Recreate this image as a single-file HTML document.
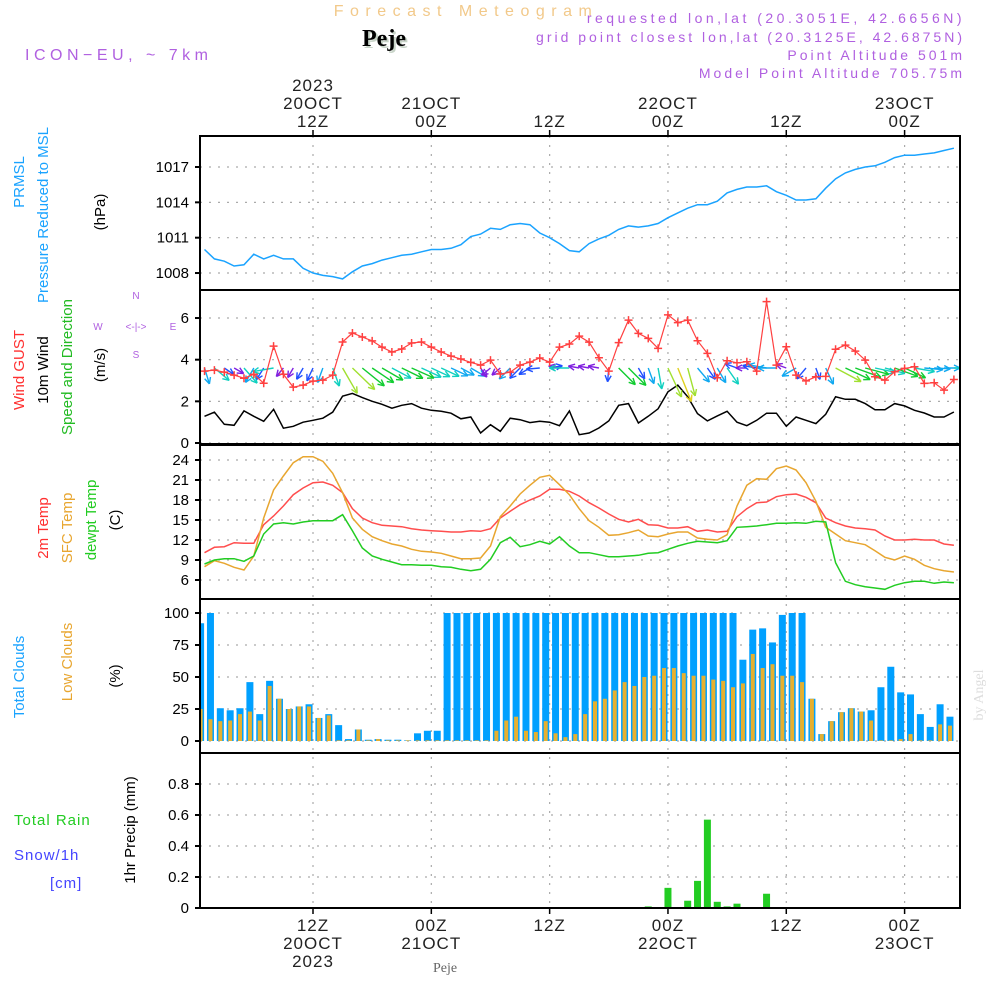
<!DOCTYPE html>
<html><head><meta charset="utf-8"><title>Forecast Meteogram - Peje</title>
<style>
html,body{margin:0;padding:0;background:#fff;}
svg{display:block;}
text{font-family:"Liberation Sans",sans-serif;}
</style></head>
<body>
<svg id="chart" width="1000" height="1000" viewBox="0 0 1000 1000" xmlns="http://www.w3.org/2000/svg">
<defs><clipPath id="plotclip"><rect x="200" y="136" width="760" height="772"/></clipPath></defs>
<g id="header">
<text x="466" y="16" text-anchor="middle" font-size="16" fill="#f2c98a" letter-spacing="6.5">Forecast Meteogram</text>
<text x="386" y="48" text-anchor="middle" font-size="24" font-weight="bold" fill="#c8d4c8" style="font-family:'Liberation Serif',serif">Peje</text>
<text x="384" y="46" text-anchor="middle" font-size="24" font-weight="bold" fill="#000" style="font-family:'Liberation Serif',serif">Peje</text>
<text x="25" y="60" font-size="16" fill="#b060e0" letter-spacing="4.5">ICON−EU, ~ 7km</text>
<text x="965" y="23" text-anchor="end" font-size="14" fill="#b060e0" letter-spacing="3.5">requested lon,lat (20.3051E, 42.6656N)</text>
<text x="965" y="42" text-anchor="end" font-size="14" fill="#b060e0" letter-spacing="3">grid point closest lon,lat (20.3125E, 42.6875N)</text>
<text x="965" y="60" text-anchor="end" font-size="14" fill="#b060e0" letter-spacing="3">Point Altitude 501m</text>
<text x="965" y="78" text-anchor="end" font-size="14" fill="#b060e0" letter-spacing="3">Model Point Altitude 705.75m</text>
</g>
<g id="labels" font-size="15">
<text transform="translate(24,182) rotate(-90)" text-anchor="middle" fill="#1aa3ff">PRMSL</text>
<text transform="translate(48,215) rotate(-90)" text-anchor="middle" fill="#1aa3ff">Pressure Reduced to MSL</text>
<text transform="translate(105,212) rotate(-90)" text-anchor="middle" fill="#000">(hPa)</text>
<text transform="translate(24,370) rotate(-90)" text-anchor="middle" fill="#ff3030">Wind GUST</text>
<text transform="translate(48,370) rotate(-90)" text-anchor="middle" fill="#000">10m Wind</text>
<text transform="translate(72,367) rotate(-90)" text-anchor="middle" fill="#22bb22">Speed and Direction</text>
<text transform="translate(105,365) rotate(-90)" text-anchor="middle" fill="#000">(m/s)</text>
<g fill="#b060e0" font-size="10">
<text x="136" y="299" text-anchor="middle">N</text>
<text x="98" y="330" text-anchor="middle">W</text>
<text x="136" y="330" text-anchor="middle">&lt;-|-&gt;</text>
<text x="173" y="330" text-anchor="middle">E</text>
<text x="136" y="358" text-anchor="middle">S</text>
</g>
<text transform="translate(48,528) rotate(-90)" text-anchor="middle" fill="#ff3030">2m Temp</text>
<text transform="translate(72,528) rotate(-90)" text-anchor="middle" fill="#e8a630">SFC Temp</text>
<text transform="translate(96,520) rotate(-90)" text-anchor="middle" fill="#22cc22">dewpt Temp</text>
<text transform="translate(120,520) rotate(-90)" text-anchor="middle" fill="#000">(C)</text>
<text transform="translate(24,677) rotate(-90)" text-anchor="middle" fill="#1aa3ff">Total Clouds</text>
<text transform="translate(72,662) rotate(-90)" text-anchor="middle" fill="#e8a630">Low Clouds</text>
<text transform="translate(120,676) rotate(-90)" text-anchor="middle" fill="#000">(%)</text>
<text x="14" y="825" fill="#22cc22" letter-spacing="1">Total  Rain</text>
<text x="14" y="860" fill="#4444ff" letter-spacing="1">Snow/1h</text>
<text x="50" y="888" fill="#4444ff" letter-spacing="1">[cm]</text>
<text transform="translate(135,830) rotate(-90)" text-anchor="middle" fill="#000">1hr Precip (mm)</text>
<text transform="translate(983,695) rotate(-90)" text-anchor="middle" font-size="14" fill="#ddd" style="font-family:'Liberation Serif',serif">by Angel</text>
<text x="445" y="972" text-anchor="middle" font-size="14" fill="#666" style="font-family:'Liberation Serif',serif">Peje</text>
</g>
<g id="grid"></g>
<g id="marks" clip-path="url(#plotclip)"></g>
<g id="frames"></g>
</svg>
<script>
// ---- data (hour 1..77 from 00Z 20 OCT 2023) ----
const pressure = [1010.0,1009.2,1009.0,1008.6,1008.7,1009.6,1009.2,1009.5,1009.2,1009.2,
1008.4,1008.0,1007.8,1007.7,1007.5,1008.1,1008.6,1008.8,1009.1,1009.3,
1009.5,1009.6,1009.8,1010.0,1010.0,1010.1,1010.4,1011.1,1011.3,1011.8,
1011.7,1012.1,1012.2,1012.1,1011.4,1011.0,1010.5,1009.9,1009.8,1010.5,
1010.9,1011.2,1011.7,1012.0,1011.9,1012.0,1012.2,1012.7,1013.1,1013.5,
1013.8,1013.8,1014.1,1014.8,1015.1,1015.3,1015.3,1015.4,1014.9,1014.6,
1014.2,1014.2,1014.3,1015.2,1016.0,1016.5,1016.8,1017.0,1017.1,1017.4,
1017.8,1018.0,1018.0,1018.1,1018.2,1018.4,1018.6];
const gust = [3.45,3.5,3.4,3.26,3.11,3.3,2.87,4.65,3.3,2.68,
2.78,2.97,3.02,3.26,4.85,5.28,5.09,4.9,4.6,4.37,
4.51,4.8,4.85,4.6,4.37,4.17,4.03,3.87,3.74,3.98,
3.31,3.4,3.74,3.88,4.08,3.88,4.6,4.75,5.13,4.84,
4.09,3.45,4.82,5.9,5.26,5.02,4.54,6.15,5.78,5.9,
4.91,4.3,3.13,3.95,3.85,3.9,3.45,6.79,3.74,4.62,
3.26,2.98,3.18,3.2,4.5,4.7,4.41,3.98,3.18,3.02,
3.42,3.58,3.66,2.86,2.89,2.54,3.05];
const windSpeed = [1.28,1.48,0.9,0.85,1.54,1.28,1.04,1.62,0.71,0.8,
1.0,1.09,1.19,1.48,2.25,2.38,2.18,2.0,1.86,1.67,
1.81,1.89,1.67,1.57,1.52,1.43,1.16,1.25,0.48,0.88,
0.56,1.19,1.12,0.98,1.04,1.0,0.83,1.54,0.4,0.48,
0.72,1.06,1.81,1.89,0.96,1.28,1.64,2.46,2.78,2.22,
1.41,1.06,1.3,1.52,1.0,0.83,1.09,1.43,1.43,0.8,
1.25,1.09,0.93,1.38,2.22,2.1,2.1,1.89,1.6,1.6,
1.89,1.78,1.57,1.44,1.25,1.25,1.49];
const windDir = [73,40,34,30,49,120,122,170,130,120,
120,115,110,70,60,44,39,34,30,28,
26,24,25,25,25,25,28,30,56,140,
140,135,135,150,175,350,190,180,190,190,
190,95,45,45,60,70,80,65,68,75,
50,55,60,55,200,180,190,190,180,200,
150,130,70,65,28,25,20,15,12,15,
20,25,10,5,3,0,0];
const temp2m = [10.1,10.9,11.0,11.6,11.5,11.5,14.3,15.6,17.1,18.8,
19.8,20.6,20.7,20.2,19.1,16.7,15.3,14.6,14.2,14.1,
14.0,13.7,13.5,13.4,13.3,13.2,13.2,13.4,13.3,13.7,
15.3,16.3,17.3,18.0,18.6,19.6,19.6,19.3,18.6,17.6,
16.8,15.9,15.1,14.7,15.1,14.3,14.2,13.8,13.8,14.0,
13.3,13.5,13.2,13.3,15.5,16.7,17.6,17.7,18.5,18.8,
18.9,18.4,17.6,15.3,14.6,14.1,13.8,13.7,13.5,12.6,
12.0,12.0,12.1,12.0,12.0,11.4,11.2];
const sfcTemp = [8.0,8.9,8.5,7.9,7.5,9.6,15.3,19.5,21.6,23.6,
24.5,24.5,23.8,22.0,19.1,15.3,13.6,12.5,11.9,11.4,
11.1,10.6,10.3,10.2,10.0,9.6,9.2,9.2,9.3,11.1,
15.5,17.1,18.9,20.2,21.4,21.7,20.3,18.8,16.7,14.9,
13.9,12.7,12.8,13.1,13.5,12.6,12.5,12.9,13.2,13.2,
12.3,12.1,12.0,12.8,17.1,20.2,21.2,21.1,22.7,23.1,
22.5,20.6,17.8,13.9,12.9,11.9,11.6,11.3,10.4,9.4,
9.0,9.6,9.1,8.2,7.7,7.4,7.2];
const dewpt = [8.4,9.0,9.2,9.2,8.8,9.6,12.9,14.4,14.6,14.4,
14.7,14.9,14.9,14.9,15.8,13.4,10.8,9.6,9.1,8.7,
8.3,8.3,8.2,8.2,8.0,7.9,7.6,7.4,7.6,9.1,
11.6,12.4,11.0,11.3,11.8,11.4,12.5,11.1,10.1,10.1,
9.8,9.5,9.5,9.6,9.7,10.0,10.1,10.6,11.1,11.5,
11.8,11.7,11.6,11.9,13.9,14.0,14.1,14.3,14.5,14.5,
14.6,14.5,14.8,14.7,8.6,5.8,5.3,5.0,4.8,4.6,
5.2,5.6,5.8,5.8,5.5,5.7,5.6];
const totalClouds = [92,100,25.6,24,25.6,46,21,47,33,25,
27,28.7,18,21,12.4,1.5,9,1,1.5,1,
1,0.5,6,8,8,100,100,100,100,100,
100,100,100,100,100,100,100,100,100,100,
100,100,100,100,100,100,100,100,100,100,
100,100,100,100,100,63.5,87,88,77,98.5,
100,100,33,5.4,15.5,22.5,25.6,23,24,42,
58,38,36.4,21,11,28.7,19];
const lowClouds = [25,17,15.5,16,21,23,16,43,33,25,
27,27,18,20,0.5,0.5,9,0.5,1.5,0.5,
0.5,0.5,0.5,0.5,0.5,0.5,0.5,0.5,0.5,0.5,
8,16,19,8,7,15.5,6,3,5.4,21,
31,33,39.5,46,43,50,51,57,57,53,
51,51,48,47,42,45,68,57,60,51,
51,46,33,5.4,15.5,22.5,25.6,23,16,0.5,
0.5,1.5,5.4,0.5,0.5,13,12];
const precipHours = [46,48,50,51,52,53,54,55,58];
const precipValues = [0.01,0.13,0.047,0.175,0.57,0.04,0.01,0.028,0.092];
const pressureTicks = [1008,1011,1014,1017];
const windTicks = [0,2,4,6];
const tempTicks = [6,9,12,15,18,21,24];
const cloudTicks = [0,25,50,75,100];
const precipTicks = [0,0.2,0.4,0.6,0.8];
const precipTickLabels = ["0","0.2","0.4","0.6","0.8"];
const timeTickHours = [12,24,36,48,60,72];
const timeTickTop = [["2023","20OCT","12Z"],["21OCT","00Z"],["12Z"],["22OCT","00Z"],["12Z"],["23OCT","00Z"]];
const timeTickBottom = [["12Z","20OCT","2023"],["00Z","21OCT"],["12Z"],["00Z","22OCT"],["12Z"],["00Z","23OCT"]];

// ---- axis functions ----
const X = h => 313 + (h - 12) * 9.86;
const yP = v => 167 + (1017 - v) * 11.78;
const yW = v => 443 - v * 20.83;
const yT = v => 580 - (v - 6) * 6.667;
const yC = v => 741 - v * 1.28;
const yR = v => 908 - v * 155;
const panels = [[136,290],[290,444],[445,599],[599,753],[753,908]];

const NS = "http://www.w3.org/2000/svg";
function mk(tag, attrs, parent){
  const e = document.createElementNS(NS, tag);
  for (const k in attrs) e.setAttribute(k, attrs[k]);
  parent.appendChild(e);
  return e;
}
const grid = document.getElementById('grid');
const marks = document.getElementById('marks');
const frames = document.getElementById('frames');

function yAxis(ticks, fn, labels, name){
  ticks.forEach((t,i)=>{
    const y = fn(t);
    const g = mk('line',{x1:200,x2:960,y1:y,y2:y,stroke:'#aaa','stroke-width':1.2,'stroke-dasharray':'2,7'},grid);
    
    
    mk('line',{x1:195,x2:200,y1:y,y2:y,stroke:'#000','stroke-width':2},grid);
    const tx = mk('text',{x:189,y:y+5,'text-anchor':'end','font-size':15,fill:'#000'},grid);
    tx.textContent = labels ? labels[i] : String(t);
    
    
  });
}
yAxis(pressureTicks, yP, null, 'pressure');
yAxis(windTicks, yW, null, 'wind');
yAxis(tempTicks, yT, null, 'temp');
yAxis(cloudTicks, yC, null, 'cloud');
yAxis(precipTicks, yR, precipTickLabels, 'precip');

timeTickHours.forEach((h,i)=>{
  const x = X(h);
  const v = mk('line',{x1:x,x2:x,y1:136,y2:908,stroke:'#aaa','stroke-width':1.2,'stroke-dasharray':'2,7'},grid);
  
  
  mk('line',{x1:x,x2:x,y1:130,y2:136,stroke:'#000','stroke-width':1.5},grid);
  mk('line',{x1:x,x2:x,y1:908,y2:914,stroke:'#000','stroke-width':1.5},grid);
  const top = timeTickTop[i];
  top.forEach((s,j)=>{
    const t = mk('text',{x:x,y:127-(top.length-1-j)*18,'text-anchor':'middle','font-size':17,fill:'#222','letter-spacing':1},grid);
    t.textContent = s;
    
    
  });
  timeTickBottom[i].forEach((s,j)=>{
    const t = mk('text',{x:x,y:931+j*18,'text-anchor':'middle','font-size':17,fill:'#222','letter-spacing':1},grid);
    t.textContent = s;
    
    
  });
});

function linePath(arr, fy){
  return arr.map((v,i)=>(i?'L':'M')+X(i+1).toFixed(1)+','+fy(v).toFixed(1)).join(' ');
}
const pl = mk('path',{d:linePath(pressure,yP),fill:'none',stroke:'#1aa3ff','stroke-width':1.5},marks);



const ws = mk('path',{d:linePath(windSpeed,yW),fill:'none',stroke:'#000','stroke-width':1.5},marks);



function speedColor(s){
  if (s < 0.9) return '#8020e0';
  if (s < 1.15) return '#2050ff';
  if (s < 1.45) return '#10a8f0';
  if (s < 1.75) return '#10d0c0';
  if (s < 2.2) return '#10cc30';
  if (s < 2.6) return '#a0e030';
  return '#e0d020';
}
windDir.forEach((d,i)=>{
  const s = windSpeed[i];
  const len = Math.max(11, s * 13);
  const a = d * Math.PI / 180;
  const x0 = X(i+1), y0 = 368;
  const x1 = x0 + Math.cos(a)*len, y1 = y0 + Math.sin(a)*len;
  const c = speedColor(s);
  const g = mk('g',{stroke:c,'stroke-width':1.4,fill:'none'},marks);
  
  
  mk('line',{x1:x0,y1:y0,x2:x1,y2:y1},g);
  const hl = 7;
  [a+Math.PI-0.45, a+Math.PI+0.45].forEach(b=>{
    mk('line',{x1:x1,y1:y1,x2:x1+Math.cos(b)*hl,y2:y1+Math.sin(b)*hl},g);
  });
});

const gl = mk('path',{d:linePath(gust,yW),fill:'none',stroke:'#ff4040','stroke-width':1.2},marks);


gust.forEach((v,i)=>{
  const x = X(i+1), y = yW(v);
  const m = mk('path',{d:`M${x-4},${y}H${x+4}M${x},${y-4}V${y+4}`,stroke:'#ff4040','stroke-width':1.5},marks);
  
  
});

[[temp2m,'#ff4d4d','temp-2m-line'],[sfcTemp,'#e8a630','sfc-temp-line'],[dewpt,'#22cc22','dewpoint-line']].forEach(([arr,c,n])=>{
  const p = mk('path',{d:linePath(arr,yT),fill:'none',stroke:c,'stroke-width':1.5},marks);
  
  
});

totalClouds.forEach((v,i)=>{
  const x = X(i+1-0.4);
  const r = mk('rect',{x:x-3.5,y:yC(v),width:7,height:yC(0)-yC(v),fill:'#00a0ff'},marks);
  
  
  const lv = lowClouds[i];
  const r2 = mk('rect',{x:x-2,y:yC(lv),width:4,height:yC(0)-yC(lv),fill:'#e6b030'},marks);
  
  
});

precipHours.forEach((h,i)=>{
  const v = precipValues[i];
  const x = X(h);
  const r = mk('rect',{x:x-3.5,y:yR(v),width:7,height:yR(0)-yR(v),fill:'#22cc22'},marks);
  
  
});

panels.forEach(([t,b],i)=>{
  const r = mk('rect',{x:200,y:t,width:760,height:b-t,fill:'none',stroke:'#000','stroke-width':2},frames);
  
  
});
</script>
</body></html>
